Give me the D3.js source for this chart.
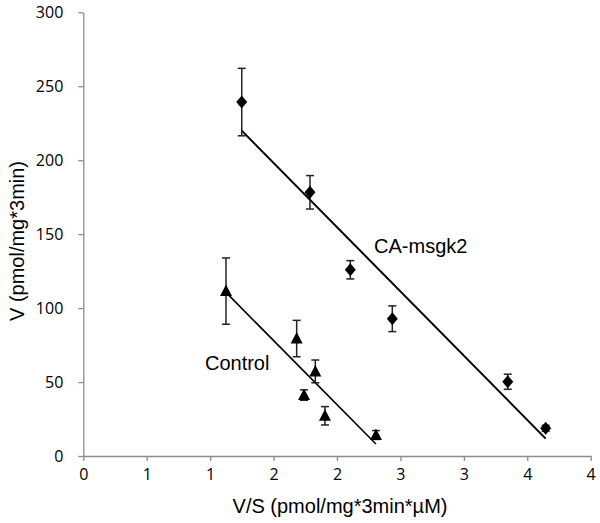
<!DOCTYPE html>
<html>
<head>
<meta charset="utf-8">
<script src="https://cdn.jsdelivr.net/npm/d3@7"></script>
<style>
  html, body { margin: 0; padding: 0; background: #fff; }
  svg { display: block; }
</style>
</head>
<body>
<svg id="chart" width="600" height="523"></svg>
<script>
// ---- data ----
const caX   = [1.249, 1.787, 2.105, 2.436, 3.346, 3.645];
const caY   = [239.3, 178.3, 125.9, 92.8, 50.2, 18.7];
const caErr = [22.8, 11.3, 6.2, 8.7, 5.1, 2];

const ctlX   = [1.125, 1.682, 1.829, 1.740, 1.905, 2.307];
const ctlY   = [111.5, 79.4, 57.2, 41.2, 27.2, 14.2];
const ctlErr = [22.4, 12.3, 7.7, 3.5, 6.2, 3];

const xTickValues = [0, 0.5, 1, 1.5, 2, 2.5, 3, 3.5, 4];
const xTickLabels = ["0", "1", "1", "2", "2", "3", "3", "4", "4"];
const yTickValues = [0, 50, 100, 150, 200, 250, 300];
const yTickLabels = ["0", "50", "100", "150", "200", "250", "300"];

const seriesNames = ["CA-msgk2", "Control"];

// ---- layout ----
const svg = d3.select("#chart");
const x = d3.scaleLinear().domain([0, 4]).range([83.3, 590.7]);
const y = d3.scaleLinear().domain([0, 300]).range([456, 12.3]);

const axisColor = "#8c8c8c";
const tickFont = "'Open Sans', 'Liberation Sans', sans-serif";
const textFont = "'Liberation Sans', Arial, sans-serif";

// x axis
const xAxis = d3.axisBottom(x)
  .tickValues(xTickValues)
  .tickFormat((d, i) => xTickLabels[i])
  .tickSizeOuter(0)
  .tickSizeInner(5)
  .tickPadding(8);
const gx = svg.append("g").attr("transform", `translate(0,${y(0)})`).call(xAxis);
gx.select(".domain").attr("stroke", axisColor).attr("stroke-width", 1.3);
gx.selectAll(".tick line").attr("stroke", axisColor).attr("stroke-width", 1.3);
gx.selectAll(".tick text").attr("fill", "#000").style("font-family", tickFont).style("font-size", "16px");

// y axis
const yAxis = d3.axisLeft(y)
  .tickValues(yTickValues)
  .tickFormat((d, i) => yTickLabels[i])
  .tickSizeOuter(0)
  .tickSizeInner(5)
  .tickPadding(15);
const gy = svg.append("g").attr("transform", `translate(${x(0)},0)`).call(yAxis);
gy.select(".domain").attr("stroke", axisColor).attr("stroke-width", 1.3);
gy.selectAll(".tick line").attr("stroke", axisColor).attr("stroke-width", 1.3);
gy.selectAll(".tick text").attr("fill", "#000").style("font-family", tickFont).style("font-size", "16px");

// axis titles
svg.append("text")
  .attr("x", (x(0) + x(4)) / 2 + 3)
  .attr("y", 513)
  .attr("text-anchor", "middle")
  .style("font-family", textFont).style("font-size", "20px").attr("fill", "#000")
  .text("V/S (pmol/mg*3min*µM)");

svg.append("text")
  .attr("transform", "translate(24,241) rotate(-90)")
  .attr("text-anchor", "middle")
  .style("font-family", textFont).style("font-size", "20px").attr("fill", "#000")
  .text("V (pmol/mg*3min)");

// regression
function linreg(xs, ys) {
  const mx = d3.mean(xs), my = d3.mean(ys);
  let sxy = 0, sxx = 0;
  xs.forEach((v, i) => { sxy += (v - mx) * (ys[i] - my); sxx += (v - mx) * (v - mx); });
  const m = sxy / sxx;
  return { m, b: my - m * mx };
}

function drawSeries(xs, ys, errs, shape, lineWidth) {
  const data = xs.map((v, i) => ({ x: v, y: ys[i], e: errs[i] }));
  // trendline
  const r = linreg(xs, ys);
  const x0 = d3.min(xs), x1 = d3.max(xs);
  svg.append("line")
    .attr("x1", x(x0)).attr("y1", y(r.m * x0 + r.b))
    .attr("x2", x(x1)).attr("y2", y(r.m * x1 + r.b))
    .attr("stroke", "#000").attr("stroke-width", lineWidth);
  // error bars
  const g = svg.append("g");
  const eb = g.selectAll("g.eb").data(data).join("g");
  eb.append("line")
    .attr("x1", d => x(d.x)).attr("x2", d => x(d.x))
    .attr("y1", d => y(d.y - d.e)).attr("y2", d => y(d.y + d.e))
    .attr("stroke", "#222").attr("stroke-width", 1.5);
  eb.append("line")
    .attr("x1", d => x(d.x) - 4).attr("x2", d => x(d.x) + 4)
    .attr("y1", d => y(d.y + d.e)).attr("y2", d => y(d.y + d.e))
    .attr("stroke", "#222").attr("stroke-width", 1.5);
  eb.append("line")
    .attr("x1", d => x(d.x) - 4).attr("x2", d => x(d.x) + 4)
    .attr("y1", d => y(d.y - d.e)).attr("y2", d => y(d.y - d.e))
    .attr("stroke", "#222").attr("stroke-width", 1.5);
  // markers
  g.selectAll("path.mk").data(data).join("path")
    .attr("transform", d => `translate(${x(d.x)},${y(d.y)})`)
    .attr("d", shape)
    .attr("fill", "#000");
}

const diamond = "M0,-6.5L5.5,0L0,6.5L-5.5,0Z";
const triangle = "M0,-6.5L6,5L-6,5Z";

drawSeries(caX, caY, caErr, diamond, 2);
drawSeries(ctlX, ctlY, ctlErr, triangle, 1.6);

// series labels
svg.append("text")
  .attr("x", x(2.292)).attr("y", y(137.2))
  .style("font-family", textFont).style("font-size", "20px").attr("fill", "#000")
  .text(seriesNames[0]);
svg.append("text")
  .attr("x", x(0.959)).attr("y", y(58.1))
  .style("font-family", textFont).style("font-size", "20px").attr("fill", "#000")
  .text(seriesNames[1]);
</script>
</body>
</html>
